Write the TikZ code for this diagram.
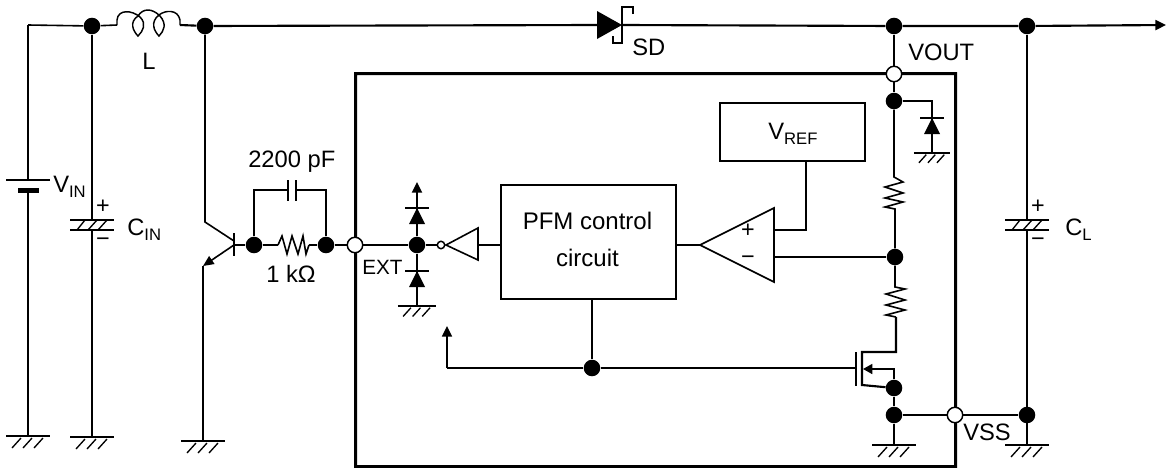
\documentclass[tikz,border=0pt]{standalone}
\usepackage{fontspec}
\setmainfont{Liberation Sans}
\usetikzlibrary{arrows.meta}
\newcommand{\subt}[1]{\raisebox{-0.22em}{\fontsize{12.5}{12.5}\selectfont #1}}
\tikzset{
  wire/.style={line width=1.2pt,line join=miter},
  rail/.style={line width=1.6pt},
  boxed/.style={draw,line width=1.4pt,inner sep=0pt},
  dot/.style={circle,fill=black,draw=none,inner sep=0pt,minimum size=12.4pt},
  pin/.style={circle,fill=white,draw=black,line width=1.1pt,inner sep=0pt,minimum size=11.6pt},
  smallpin/.style={circle,fill=white,draw=black,line width=1.1pt,inner sep=0pt,minimum size=5.6pt},
  lab/.style={font=\fontsize{17.8}{20}\selectfont,anchor=base west,inner sep=0pt},
  sign/.style={font=\fontsize{17.5}{20}\selectfont,inner sep=0pt},
  tipbig/.style={-{Stealth[length=8pt,width=7.5pt,inset=0pt]}},
  gnd/.pic={
    \draw[wire] (-22,0) -- (22,0);
    \draw[line width=1pt] (-16,12) -- (-7,2) (-5,12) -- (4,2) (6,12) -- (15,2);
  },
  polcap/.pic={
    \draw[line width=1.2pt] (-22,0) -- (22,0) (-22,10) -- (22,10);
    \draw[line width=1pt] (-15,10) -- (-7,0) (-4,10) -- (5,0) (6,10) -- (15,0);
  },
  diodeup/.pic={
    \fill (0,0) -- (-8,16) -- (8,16) -- cycle;
    \draw[wire] (-12,0) -- (12,0);
  },
}
\begin{document}
\begin{tikzpicture}[x=0.75pt,y=-0.75pt]
\useasboundingbox (0,0) rectangle (1172,468);
\fill[white] (0,0) rectangle (1172,468);

% coordinates
\coordinate (railL) at (28,25);
\coordinate (batTop) at (28,180);
\coordinate (batBot) at (28,190);
\coordinate (g1) at (28,436);
\coordinate (capInT) at (92,220);
\coordinate (capInB) at (92,230);
\coordinate (g2) at (92,437);
\coordinate (indL) at (117,25);
\coordinate (indR) at (180,25);
\coordinate (col) at (205,222);
\coordinate (colB) at (234,241);
\coordinate (emB) at (234,245);
\coordinate (emE) at (203,266);
\coordinate (g3) at (203,441);
\coordinate (baseT) at (234,233);
\coordinate (baseD) at (234,256);
\coordinate (sdA) at (597,25);
\coordinate (sdK) at (622,25);
\coordinate (outEnd) at (1166,25);
\coordinate (capLT) at (1027,220);
\coordinate (capLB) at (1027,230);
\coordinate (g6) at (1027,445);
\coordinate (g5) at (894,445);

% top rail nodes
\node[dot] (dIn) at (92,26) {};
\node[dot] (dSw) at (205,26) {};
\node[dot] (dOutA) at (894,26) {};
\node[dot] (dOutB) at (1027,26) {};

% chip outline: a 3 px ring, filled so that it keeps its width when rasterised
\fill[even odd rule] (354,72) rectangle (957,468) (357,75) rectangle (954,465);

% rail
\draw[wire] (railL) -- (dIn) -- (indL);
\draw[rail] (indR) -- (dSw) -- (sdA);
\draw[rail] (sdK) -- (dOutA) -- (dOutB);
\draw[rail,tipbig] (dOutB) -- (outEnd);
\draw[wire] (railL) -- (batTop) (batBot) -- (g1);
\draw[wire] (dIn) -- (capInT) (capInB) -- (g2);
\draw[wire] (dOutB) -- (capLT) (capLB) -- (g6);

% inductor
\draw[line width=1.1pt] (indL) -- (117,20) .. controls (118,9) and (132,10) .. (140,17)
  .. controls (147,24) and (143,31) .. (138,36) .. controls (133,31) and (129,22) .. (138,16)
  .. controls (143,8) and (152,8) .. (160,16)
  .. controls (167,24) and (164,31) .. (159,36) .. controls (154,31) and (150,22) .. (159,15)
  .. controls (165,10) and (178,9) .. (180,20) -- (indR);

% battery
\draw[wire] (6,180) -- (50,180);
\draw[line width=3.8pt] (18,190.5) -- (39,190.5);

% grounds and capacitors
\pic at (g1) {gnd};
\pic at (g2) {gnd};
\pic at (g3) {gnd};
\pic at (g5) {gnd};
\pic at (g6) {gnd};
\pic at (capInT) {polcap};
\pic at (capLT) {polcap};

% transistor
\draw[wire] (dSw) -- (col) -- (colB);
\draw[wire] (baseT) -- (baseD);
\draw[wire,-{Stealth[length=8pt,width=7pt,inset=0pt]}] (emB) -- (emE);
\draw[wire] (emE) -- (g3);

% base network
\node[dot] (dB1) at (254,245) {};
\node[dot] (dB2) at (326,245) {};
\node[pin] (pExt) at (355,245) {};
\coordinate (rbL) at (278,245);
\coordinate (rbR) at (309,245);
\coordinate (cbL) at (288,190);
\coordinate (cbR) at (296,190);
\draw[wire] (emB) -- (dB1) -- (rbL);
\draw[wire] (rbL) -- (282,236) -- (287,254) -- (292,236) -- (298,254) -- (303,236) -- (306,254) -- (rbR);
\draw[wire] (rbR) -- (dB2) -- (pExt);
\draw[wire] (dB1) |- (cbL);
\draw[wire] (dB2) |- (cbR);
\draw[wire] (288,180) -- (288,201) (296,180) -- (296,201);

% EXT section
\node[dot] (dExt) at (417,245) {};
\node[smallpin] (inv) at (441,245) {};
\coordinate (dUp) at (417,208);
\coordinate (arrUp) at (417,182);
\coordinate (dDown) at (417,271);
\coordinate (g4) at (417,306);
\draw[rail] (pExt) -- (dExt) -- (inv);
\draw[rail,tipbig] (dExt) -- (arrUp);
\draw[rail] (dExt) -- (g4);
\pic at (dUp) {diodeup};
\pic at (dDown) {diodeup};
\pic[scale=0.87] at (g4) {gnd};
\draw[wire,fill=white] (446,245) -- (478,228) -- (478,260) -- cycle;

% PFM
\node[boxed,minimum width=131.5pt,minimum height=85.5pt] (pfm) at (588.5,242) {};
\node[font=\fontsize{18}{20}\selectfont,anchor=base,inner sep=0pt] at (587.5,229) {PFM control};
\node[font=\fontsize{18}{20}\selectfont,anchor=base,inner sep=0pt] at (587.5,266) {circuit};
\coordinate (invR) at (478,245);
\draw[wire] (invR) -- (invR -| pfm.west);

% VREF
\node[boxed,minimum width=108.75pt,minimum height=43.5pt] (vref) at (792.5,132) {};
\node[lab] at (768,139) {V\subt{REF}};

% comparator
\coordinate (oaApex) at (700,245);
\coordinate (oaP) at (774,230);
\coordinate (oaN) at (774,257);
\draw[wire] (oaApex) -- (774,208) -- (774,282) -- cycle;
\draw[wire] (oaApex) -- (oaApex -| pfm.east);
\draw[wire] (vref.south -| 806,161) -- (806,230) -- (oaP);
\node[sign] at (748,231) {+};
\node[sign] at (748,260) {−};

% right column
\node[pin] (pOut) at (894,74) {};
\node[dot] (dTop) at (894,101) {};
\node[dot] (dMid) at (895,257) {};
\node[dot] (dSrc) at (894,388) {};
\node[dot] (dGnd) at (894,415) {};
\node[pin] (pVss) at (955,415) {};
\node[dot] (dVss) at (1027,415) {};
\draw[rail] (dOutA) -- (pOut) -- (dTop);
\coordinate (r1T) at (894,177);
\coordinate (r1B) at (895,209);
\draw[wire] (dTop) -- (r1T) -- (903,182) -- (885,187) -- (903,193) -- (885,198) -- (903,202) -- (885,207) -- (r1B) -- (dMid);
\coordinate (r2T) at (895,287);
\coordinate (r2B) at (896,317);
\draw[wire] (dMid) -- (r2T) -- (905,289) -- (886,294) -- (905,300) -- (886,305) -- (905,310) -- (886,315) -- (r2B);
\draw[wire] (oaN) -- (dMid);

% clamp diode
\coordinate (dcK) at (932,118);
\coordinate (dcG) at (932,153);
\draw[wire] (dTop) -| (dcK);
\draw[wire] (dcK) -- (dcG);
\pic at (dcK) {diodeup};
\pic[scale=0.82] at (dcG) {gnd};

% MOSFET
\coordinate (gate) at (856,368);
\coordinate (chT) at (862,352);
\coordinate (chB) at (862,385);
\coordinate (bulk) at (863,369);
\draw[rail] (r2B) -- (896,352) -- (chT) -- (chB) -- (dSrc);
\draw[wire] (856,352) -- (856,386);
\draw[wire,-{Stealth[length=7pt,width=7.5pt,inset=0pt]}] (dSrc) |- (bulk);
\draw[wire] (dSrc) -- (dGnd) -- (g5);
\draw[wire] (dGnd) -- (pVss) -- (dVss);
\draw[wire] (dVss) -- (g6);

% control line
\node[dot] (dCtl) at (592,368) {};
\coordinate (fb) at (447,368);
\coordinate (fbUp) at (447,326);
\draw[wire] (pfm.south -| dCtl) -- (dCtl);
\draw[rail] (dCtl) -- (fb);
\draw[wire,tipbig] (fb) -- (fbUp);
\draw[wire] (dCtl) -- (gate);

% Schottky diode
\fill (sdA) ++(0,-14) -- (sdK) -- (597,39) -- cycle;
\draw[wire] (633,14) -- (633,7) -- (622,7) -- (622,43) -- (613,43) -- (613,36);

% labels
\node[lab] at (53,192) {V\subt{IN}};
\node[lab] at (127,235) {C\subt{IN}};
\node[lab] at (1065,235) {C\subt{L}};
\node[lab] at (142,69) {L};
\node[lab] at (632,55) {SD};
\node[lab] at (908,60) {VOUT};
\node[lab,font=\fontsize{15.5}{18}\selectfont] at (362,274) {EXT};
\node[lab] at (963,440) {VSS};
\node[lab] at (248,167) {2200 pF};
\node[lab] at (266,282) {1 kΩ};
\node[sign] at (103,207) {+};
\node[sign] at (103,242) {−};
\node[sign] at (1038,207) {+};
\node[sign] at (1038,242) {−};
\end{tikzpicture}
\end{document}
